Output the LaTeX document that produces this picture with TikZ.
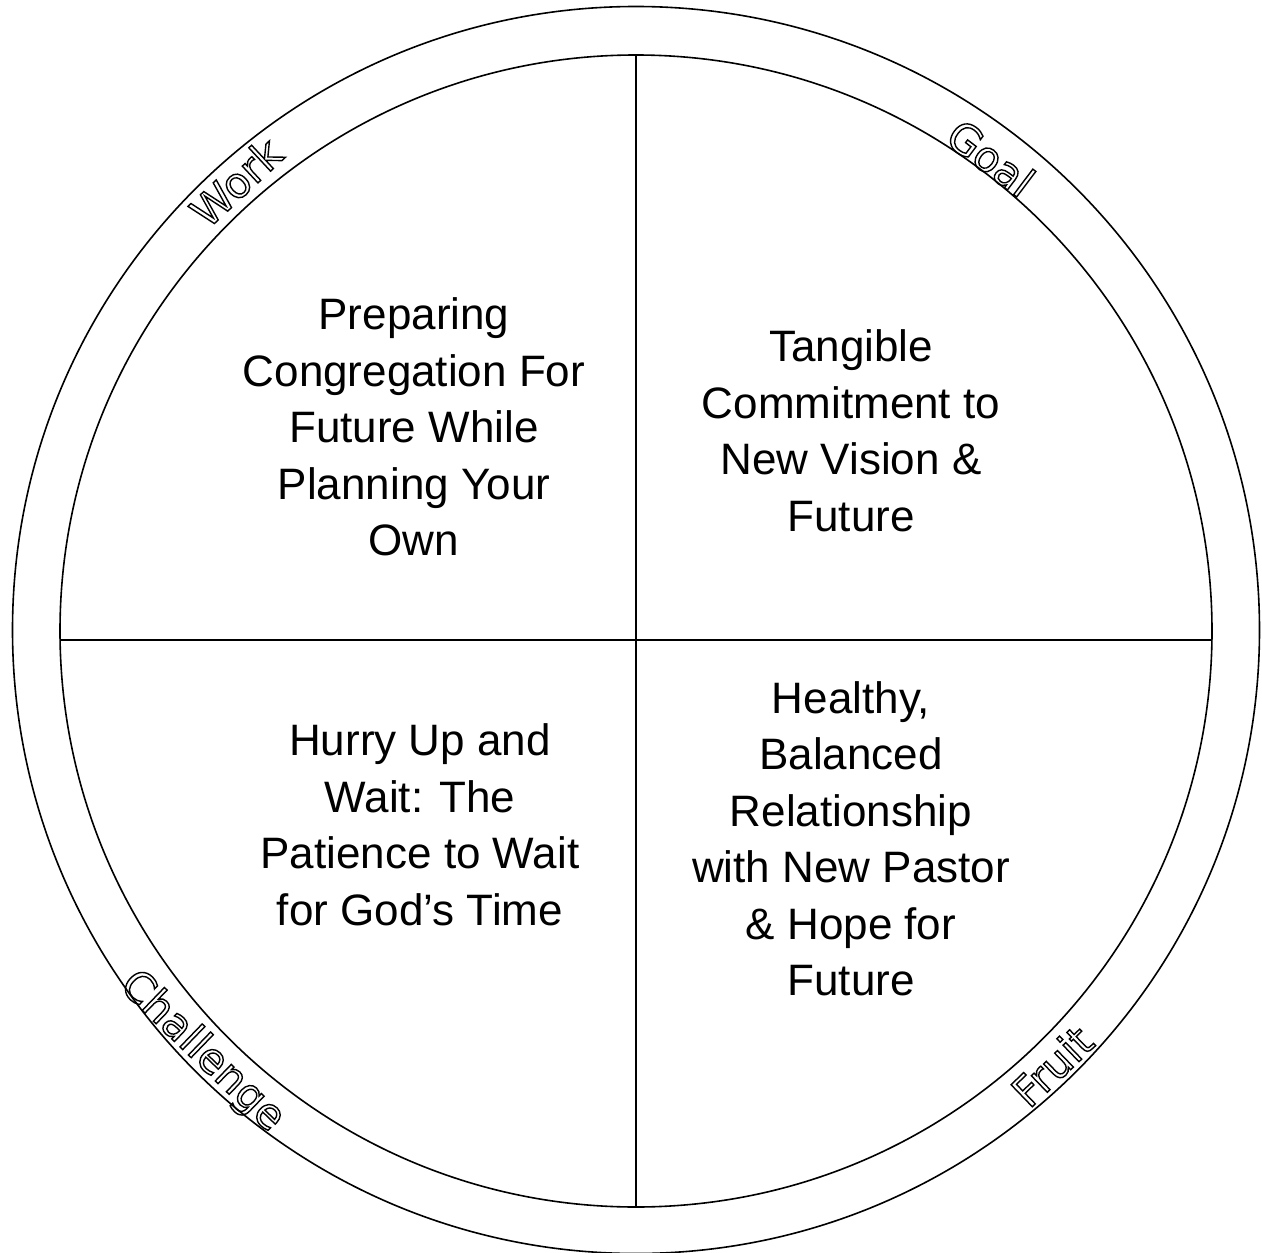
\documentclass[tikz,border=0pt]{standalone}
\usepackage{fontspec}
\setmainfont{Liberation Sans}
\newfontfamily\ringfont{DejaVu Sans}
\newcommand{\hollow}[1]{\special{pdf:literal direct 1 Tr 1.4 w}#1\special{pdf:literal direct 0 Tr}}

\begin{document}
\begin{tikzpicture}[x=1pt,y=-1pt,
    quad/.style={align=center,font=\fontsize{44}{56.5}\selectfont},
    ringlabel/.style={font=\ringfont\fontsize{42}{44}\selectfont,inner sep=0pt}]
    \useasboundingbox (0,0) rectangle (1262,1253);
    \node (outer) at (636,630) [circle,draw,line width=1.6pt,minimum size=1247pt,inner sep=0pt] {};
    \node (inner) at (636,631) [circle,draw,line width=1.6pt,minimum size=1152pt,inner sep=0pt] {};
    \coordinate (west) at (60,640);
    \coordinate (east) at (1212,640);
    \draw[line width=1.2pt] (inner.north) -- (inner.south);
    \draw[line width=1.2pt] (west) -- (east);

    \node (work) at (414,427) [quad] {Preparing\\Congregation For\\Future While\\Planning Your\\Own};
    \node (goal) at (851,431) [quad] {Tangible\\Commitment to\\New Vision \&\\Future};
    \node (challenge) at (420,825) [quad] {Hurry Up and\\Wait: The\\Patience to Wait\\for God’s Time};
    \node (fruit) at (851,839) [quad] {Healthy,\\Balanced\\Relationship\\with New Pastor\\\& Hope for\\Future};

%    labels on the ring
    \node (worklbl) at (236,182) [ringlabel,rotate=43] {\hollow{Work}};
    \node (goallbl) at (991,158) [ringlabel,rotate=-37] {\hollow{Goal}};
    \node (challengelbl) at (202,1052) [ringlabel,rotate=-44] {\hollow{Challenge}};
    \node (fruitlbl) at (1052,1066) [ringlabel,rotate=44] {\hollow{Fruit}};
\end{tikzpicture}
\end{document}
